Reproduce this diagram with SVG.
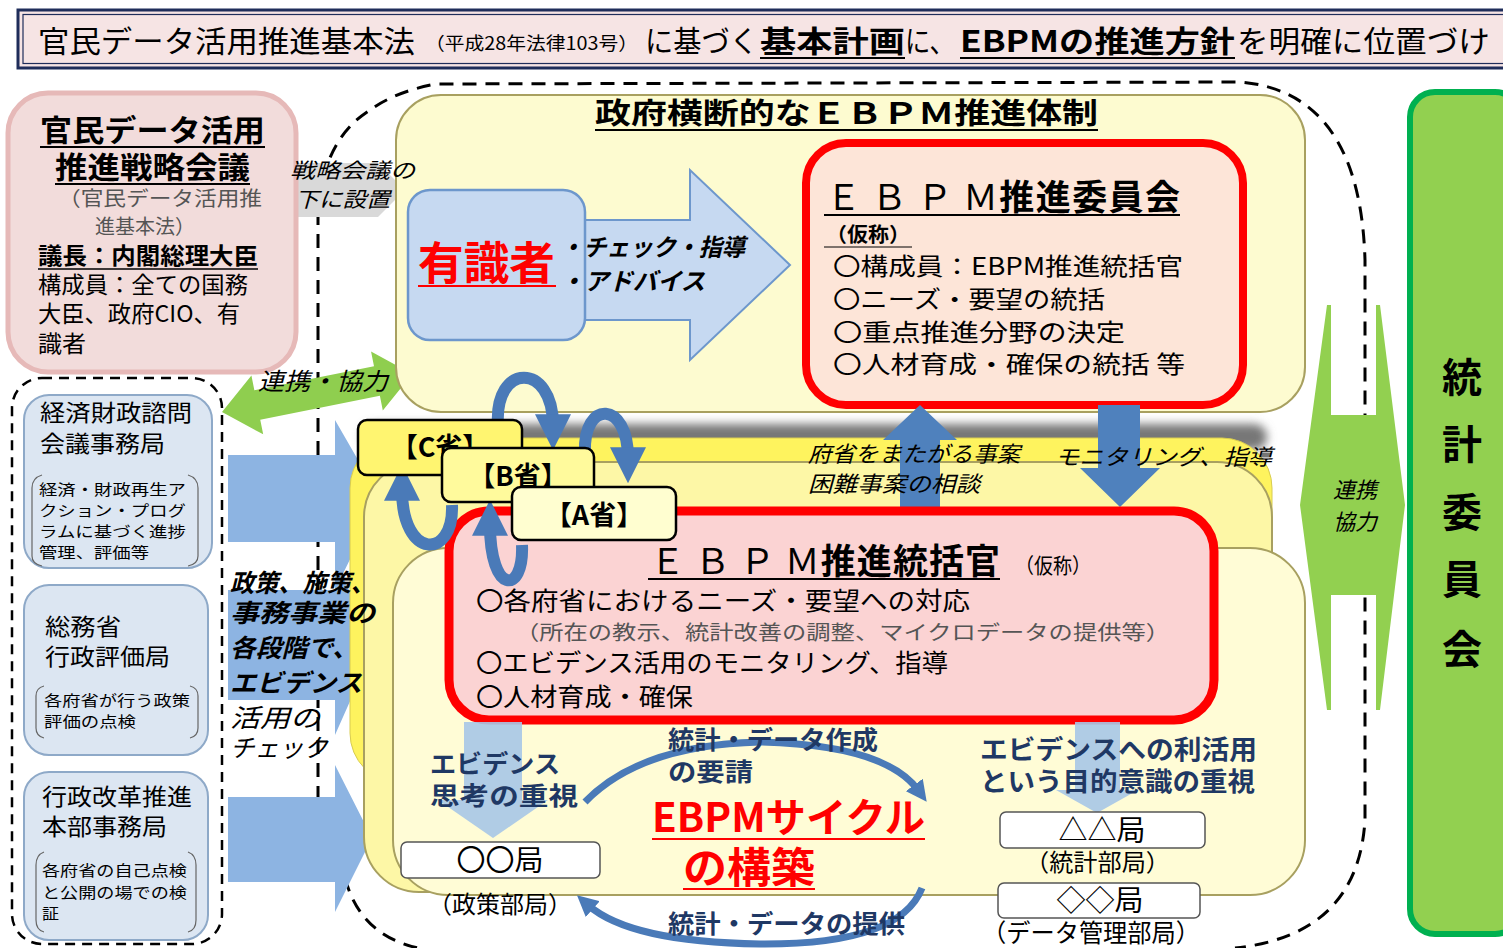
<svg xmlns="http://www.w3.org/2000/svg" width="1503" height="948" viewBox="0 0 1503 948">
<defs>
<style>
text{font-family:'Noto Sans CJK JP','Noto Sans CJK SC',sans-serif;fill:#000}
.b{font-weight:700}
.it{font-style:italic}
.navy{fill:#1f3864;font-weight:700}
.gray{fill:#555}
.ul{stroke:#000;stroke-width:2}
.lbox{fill:#dce6f2;stroke:#8ea9c8;stroke-width:2}
.brk{fill:none;stroke:#666;stroke-width:1.2}
.larrow{fill:#8db4e2}
.dash{fill:none;stroke:#000;stroke-width:3;stroke-dasharray:14 9}
.loop{fill:none;stroke:#4a7ab8;stroke-width:12}
.min{stroke:#000;stroke-width:2.5}
.sub{fill:#fff;stroke:#555;stroke-width:1.5}
.sm{font-size:15px}
</style>
<marker id="ah" viewBox="0 0 10 10" refX="3" refY="5" markerWidth="3" markerHeight="3" orient="auto">
<path d="M0,0 L10,5 L0,10 z" fill="#4a7ab8"/>
</marker>
<filter id="blur" x="-10%" y="-100%" width="120%" height="300%"><feGaussianBlur stdDeviation="5"/></filter>
</defs>
<rect width="1503" height="948" fill="#fff"/>

<g id="banner">
<rect x="18" y="10" width="1495" height="58" fill="#f6e4e4" stroke="#1f2d5a" stroke-width="3"/>
<rect x="23" y="14.5" width="1490" height="49" fill="none" stroke="#1f2d5a" stroke-width="1.2"/>
<text x="38" y="52" font-size="30" textLength="377" lengthAdjust="spacingAndGlyphs">官民データ活用推進基本法</text>
<text x="425" y="50" font-size="18" textLength="213" lengthAdjust="spacingAndGlyphs">（平成28年法律103号）</text>
<text x="645" y="52" font-size="30" textLength="113" lengthAdjust="spacingAndGlyphs">に基づく</text>
<text x="760" y="52" font-size="30" class="b" textLength="145" lengthAdjust="spacingAndGlyphs">基本計画</text>
<text x="905" y="52" font-size="30" textLength="50" lengthAdjust="spacingAndGlyphs">に、</text>
<text x="960" y="52" font-size="30" class="b" textLength="275" lengthAdjust="spacingAndGlyphs">EBPMの推進方針</text>
<text x="1237" y="52" font-size="30" textLength="253" lengthAdjust="spacingAndGlyphs">を明確に位置づけ</text>
<line class="ul" x1="760" y1="58" x2="905" y2="58"/>
<line class="ul" x1="960" y1="58" x2="1235" y2="58"/>
</g>

<g id="connectors">
<path class="dash" d="M318,800 L318,215 Q322,140 370,110 Q395,92 435,84 L1240,82 Q1360,92 1365,260 L1365,820 Q1358,935 1235,948"/>
<path class="dash" d="M345,878 Q360,935 418,948"/>
<polygon points="290,163 378,163 405,190 378,217 290,217" fill="#d9d9d9"/>
<polygon class="larrow" points="228,455 335,455 335,420 380,498 335,590 335,542 228,542"/>
<polygon class="larrow" points="228,590 335,590 335,560 375,645 335,735 335,700 228,700"/>
<polygon class="larrow" points="228,797 335,797 335,765 372,838 335,912 335,882 228,882"/>
<g transform="translate(222,412) rotate(-11.3)">
<polygon points="0,0 36,-30 36,-15 158,-15 158,-30 194,0 158,30 158,15 36,15 36,30" fill="#8fce4f"/>
</g>
<polygon points="1327,305 1331,305 1331,415 1376,415 1376,305 1380,305 1405,505 1380,710 1376,710 1376,595 1331,595 1331,710 1327,710 1300,505" fill="#92d050"/>
</g>

<g id="strategy-council">
<rect x="8" y="93" width="288" height="279" rx="40" fill="#f2dcdb" stroke="#e6b9b8" stroke-width="5"/>
<text x="40" y="141" font-size="30" class="b" textLength="225" lengthAdjust="spacingAndGlyphs">官民データ活用</text>
<text x="55" y="178" font-size="30" class="b" textLength="195" lengthAdjust="spacingAndGlyphs">推進戦略会議</text>
<line class="ul" x1="40" y1="147" x2="265" y2="147"/>
<line class="ul" x1="55" y1="184" x2="250" y2="184"/>
<text x="58" y="206" font-size="20" class="gray" textLength="204" lengthAdjust="spacingAndGlyphs">（官民データ活用推</text>
<text x="95" y="234" font-size="20" class="gray" textLength="100" lengthAdjust="spacingAndGlyphs">進基本法）</text>
<text x="38" y="264" font-size="23" class="b" textLength="220" lengthAdjust="spacingAndGlyphs">議長：内閣総理大臣</text>
<line x1="38" y1="269" x2="258" y2="269" stroke="#000" stroke-width="1.5"/>
<text x="38" y="293" font-size="23" textLength="210" lengthAdjust="spacingAndGlyphs">構成員：全ての国務</text>
<text x="38" y="322" font-size="23" textLength="202" lengthAdjust="spacingAndGlyphs">大臣、政府CIO、有</text>
<text x="38" y="352" font-size="23" textLength="48" lengthAdjust="spacingAndGlyphs">識者</text>
</g>

<g id="left-group">
<rect x="12" y="378" width="210" height="566" rx="30" fill="none" stroke="#000" stroke-width="2.5" stroke-dasharray="10 7"/>
<g id="cao">
<rect class="lbox" x="24" y="395" width="188" height="173" rx="25"/>
<text x="40" y="421" font-size="23" textLength="152" lengthAdjust="spacingAndGlyphs">経済財政諮問</text>
<text x="40" y="452" font-size="23" textLength="125" lengthAdjust="spacingAndGlyphs">会議事務局</text>
<path class="brk" d="M42,475 Q32,478 32,488 L32,556 Q32,564 42,566 M188,475 Q198,478 198,488 L198,556 Q198,564 188,566"/>
<text x="39" y="495" class="sm" textLength="147" lengthAdjust="spacingAndGlyphs">経済・財政再生ア</text>
<text x="39" y="516" class="sm" textLength="147" lengthAdjust="spacingAndGlyphs">クション・プログ</text>
<text x="39" y="537" class="sm" textLength="147" lengthAdjust="spacingAndGlyphs">ラムに基づく進捗</text>
<text x="39" y="558" class="sm" textLength="110" lengthAdjust="spacingAndGlyphs">管理、評価等</text>
</g>
<g id="mic">
<rect class="lbox" x="24" y="585" width="184" height="170" rx="25"/>
<text x="45" y="635" font-size="23" textLength="76" lengthAdjust="spacingAndGlyphs">総務省</text>
<text x="45" y="665" font-size="23" textLength="125" lengthAdjust="spacingAndGlyphs">行政評価局</text>
<path class="brk" d="M44,686 Q36,688 36,696 L36,728 Q36,736 44,738 M190,686 Q198,688 198,696 L198,728 Q198,736 190,738"/>
<text x="44" y="706" class="sm" textLength="146" lengthAdjust="spacingAndGlyphs">各府省が行う政策</text>
<text x="44" y="727" class="sm" textLength="92" lengthAdjust="spacingAndGlyphs">評価の点検</text>
</g>
<g id="gyokaku">
<rect class="lbox" x="24" y="772" width="184" height="168" rx="25"/>
<text x="42" y="805" font-size="23" textLength="150" lengthAdjust="spacingAndGlyphs">行政改革推進</text>
<text x="42" y="835" font-size="23" textLength="125" lengthAdjust="spacingAndGlyphs">本部事務局</text>
<path class="brk" d="M44,852 Q36,855 36,865 L36,920 Q36,930 44,932 M188,852 Q196,855 196,865 L196,920 Q196,930 188,932"/>
<text x="42" y="876" class="sm" textLength="145" lengthAdjust="spacingAndGlyphs">各府省の自己点検</text>
<text x="42" y="898" class="sm" textLength="145" lengthAdjust="spacingAndGlyphs">と公開の場での検</text>
<text x="42" y="919" class="sm" textLength="17" lengthAdjust="spacingAndGlyphs">証</text>
</g>
</g>

<g id="ebpm-system">
<rect x="396" y="95" width="909" height="317" rx="45" fill="#fdfbd0" stroke="#a8a060" stroke-width="2"/>
<text x="595" y="124" font-size="29" class="b" textLength="503" lengthAdjust="spacingAndGlyphs">政府横断的なＥＢＰＭ推進体制</text>
<line class="ul" x1="595" y1="130" x2="1098" y2="130"/>
</g>

<g id="label-setup">
<text x="290" y="178" font-size="21" class="it" fill="#333" textLength="125" lengthAdjust="spacingAndGlyphs">戦略会議の</text>
<text x="295" y="207" font-size="21" class="it" textLength="95" lengthAdjust="spacingAndGlyphs">下に設置</text>
</g>
<g id="label-renkei-left">
<text x="258" y="390" font-size="24" class="it" textLength="130" lengthAdjust="spacingAndGlyphs">連携・協力</text>
</g>

<g id="expert-arrow">
<polygon points="585,220 690,220 690,170 790,265 690,360 690,320 585,320" fill="#c6d9f1" stroke="#6d97cc" stroke-width="2"/>
</g>
<g id="expert">
<rect x="408" y="190" width="177" height="150" rx="22" fill="#c6d9f1" stroke="#6d97cc" stroke-width="2.5"/>
<text x="418" y="280" font-size="45" class="b" style="fill:#ff0000" textLength="137" lengthAdjust="spacingAndGlyphs">有識者</text>
<line x1="418" y1="286" x2="556" y2="286" stroke="#ff0000" stroke-width="2"/>
<text x="560" y="256" font-size="24" class="b it" textLength="185" lengthAdjust="spacingAndGlyphs">・チェック・指導</text>
<text x="560" y="290" font-size="24" class="b it" textLength="145" lengthAdjust="spacingAndGlyphs">・アドバイス</text>
</g>

<g id="committee">
<rect x="806" y="143" width="437" height="262" rx="40" fill="#fde5d8" stroke="#ff0000" stroke-width="8"/>
<text x="826" y="210" font-size="35" textLength="354" lengthAdjust="spacing"><tspan>Ｅ Ｂ Ｐ Ｍ</tspan><tspan class="b">推進委員会</tspan></text>
<line class="ul" x1="824" y1="215" x2="1180" y2="215"/>
<text x="826" y="242" font-size="20" class="b" textLength="84" lengthAdjust="spacingAndGlyphs">（仮称）</text>
<line x1="824" y1="247" x2="912" y2="247" stroke="#000" stroke-width="1"/>
<text x="833" y="275" font-size="24" textLength="350" lengthAdjust="spacingAndGlyphs">〇構成員：EBPM推進統括官</text>
<text x="833" y="308" font-size="24" textLength="272" lengthAdjust="spacingAndGlyphs">〇ニーズ・要望の統括</text>
<text x="833" y="341" font-size="24" textLength="292" lengthAdjust="spacingAndGlyphs">〇重点推進分野の決定</text>
<text x="833" y="373" font-size="24" textLength="352" lengthAdjust="spacingAndGlyphs">〇人材育成・確保の統括 等</text>
</g>

<g id="ministry-layers">
<rect x="362" y="424" width="905" height="26" rx="13" fill="#777" filter="url(#blur)"/>
<rect x="350" y="438" width="922" height="345" rx="50" fill="#fef35e" stroke="#d8cc50" stroke-width="1"/>
<rect x="364" y="462" width="908" height="430" rx="55" fill="#fdf7a6" stroke="#a8a060" stroke-width="2"/>
<rect x="393" y="548" width="912" height="347" rx="55" fill="#fffcd6" stroke="#a8a060" stroke-width="2"/>
</g>

<g id="label-check">
<text x="230" y="592" font-size="25" class="b it" textLength="145" lengthAdjust="spacingAndGlyphs">政策、施策、</text>
<text x="230" y="622" font-size="25" class="b it" textLength="145" lengthAdjust="spacingAndGlyphs">事務事業の</text>
<text x="230" y="657" font-size="25" class="b it" textLength="128" lengthAdjust="spacingAndGlyphs">各段階で、</text>
<text x="230" y="692" font-size="25" class="b it" textLength="132" lengthAdjust="spacingAndGlyphs">エビデンス</text>
<text x="230" y="727" font-size="25" class="it" textLength="90" lengthAdjust="spacingAndGlyphs">活用の</text>
<text x="230" y="757" font-size="25" class="it" textLength="98" lengthAdjust="spacingAndGlyphs">チェック</text>
</g>

<g id="connectors-blue">
<polygon points="900,510 900,440 883,440 920,405 957,440 940,440 940,510" fill="#4f81bd"/>
<polygon points="1098,405 1140,405 1140,468 1160,468 1120,507 1080,468 1098,468" fill="#4f81bd"/>
</g>
<g id="label-consult">
<text x="808" y="462" font-size="22" class="it" textLength="212" lengthAdjust="spacingAndGlyphs">府省をまたがる事案</text>
<text x="808" y="492" font-size="22" class="it" textLength="172" lengthAdjust="spacingAndGlyphs">困難事案の相談</text>
<text x="1055" y="465" font-size="22" class="it" textLength="217" lengthAdjust="spacingAndGlyphs">モニタリング、指導</text>
</g>

<g id="officer">
<rect x="449" y="511" width="765" height="209" rx="40" fill="#fbd3d3" stroke="#ff0000" stroke-width="9"/>
<text x="650" y="574" font-size="35" textLength="350" lengthAdjust="spacing"><tspan>Ｅ Ｂ Ｐ Ｍ</tspan><tspan class="b">推進統括官</tspan></text>
<line class="ul" x1="648" y1="579" x2="1000" y2="579"/>
<text x="1015" y="573" font-size="21" textLength="76" lengthAdjust="spacingAndGlyphs">（仮称）</text>
<text x="476" y="610" font-size="25" textLength="494" lengthAdjust="spacingAndGlyphs">〇各府省におけるニーズ・要望への対応</text>
<text x="515" y="640" font-size="20" class="gray" textLength="655" lengthAdjust="spacingAndGlyphs">（所在の教示、統計改善の調整、マイクロデータの提供等）</text>
<text x="476" y="672" font-size="25" textLength="472" lengthAdjust="spacingAndGlyphs">〇エビデンス活用のモニタリング、指導</text>
<text x="476" y="706" font-size="25" textLength="217" lengthAdjust="spacingAndGlyphs">〇人材育成・確保</text>
</g>

<g id="ministry-loops">
<path class="loop" d="M498,425 C494,362 553,362 553,425" marker-end="url(#ah)"/>
<path class="loop" d="M585,452 C583,400 628,400 628,458" marker-end="url(#ah)"/>
<path class="loop" d="M452,505 C454,560 402,560 402,490" marker-end="url(#ah)"/>
<path class="loop" d="M522,545 C524,595 490,595 490,525" marker-end="url(#ah)"/>
</g>
<g id="ministry-C">
<rect class="min" x="358" y="420" width="164" height="55" rx="9" fill="#fff570"/>
<text x="440" y="457" font-size="27" class="b" text-anchor="middle">【C省】</text>
</g>
<g id="ministry-B">
<rect class="min" x="442" y="448" width="152" height="54" rx="9" fill="#fffa9c"/>
<text x="518" y="486" font-size="27" class="b" text-anchor="middle">【B省】</text>
</g>
<g id="ministry-A">
<rect class="min" x="512" y="487" width="164" height="53" rx="9" fill="#fffed0"/>
<text x="594" y="525" font-size="27" class="b" text-anchor="middle">【A省】</text>
</g>

<g id="cycle-connectors">
<polygon points="464,722 522,722 522,800 548,800 493,838 438,800 464,800" fill="#a7c7e7" opacity="0.9"/>
<polygon points="1075,722 1120,722 1120,790 1138,790 1097,813 1056,790 1075,790" fill="#a7c7e7" opacity="0.9"/>
<path d="M585,802 Q640,745 760,742 Q885,745 918,790" fill="none" stroke="#4a7ab8" stroke-width="7" marker-end="url(#ah)"/>
<path d="M922,888 Q900,945 760,944 Q630,942 588,905" fill="none" stroke="#4a7ab8" stroke-width="7" marker-end="url(#ah)"/>
</g>

<g id="cycle-labels">
<text x="430" y="773" font-size="25" class="navy" textLength="130" lengthAdjust="spacingAndGlyphs">エビデンス</text>
<text x="430" y="805" font-size="25" class="navy" textLength="148" lengthAdjust="spacingAndGlyphs">思考の重視</text>
<text x="668" y="749" font-size="25" class="navy" textLength="210" lengthAdjust="spacingAndGlyphs">統計・データ作成</text>
<text x="668" y="781" font-size="25" class="navy" textLength="85" lengthAdjust="spacingAndGlyphs">の要請</text>
<text x="652" y="832" font-size="40" class="b" style="fill:#ff0000" textLength="273" lengthAdjust="spacingAndGlyphs">EBPMサイクル</text>
<line x1="652" y1="839" x2="925" y2="839" stroke="#ff0000" stroke-width="2"/>
<text x="683" y="883" font-size="42" class="b" style="fill:#ff0000" textLength="132" lengthAdjust="spacingAndGlyphs">の構築</text>
<line x1="683" y1="889" x2="815" y2="889" stroke="#ff0000" stroke-width="2"/>
<text x="668" y="933" font-size="25" class="navy" textLength="237" lengthAdjust="spacingAndGlyphs">統計・データの提供</text>
<text x="980" y="759" font-size="26" class="navy" textLength="277" lengthAdjust="spacingAndGlyphs">エビデンスへの利活用</text>
<text x="980" y="791" font-size="26" class="navy" textLength="275" lengthAdjust="spacingAndGlyphs">という目的意識の重視</text>
</g>

<g id="policy-bureau">
<rect class="sub" x="401" y="842" width="199" height="36" rx="6"/>
<text x="500" y="871" font-size="29" text-anchor="middle">〇〇局</text>
<text x="428" y="913" font-size="24" textLength="144" lengthAdjust="spacingAndGlyphs">（政策部局）</text>
</g>
<g id="stat-bureau">
<rect class="sub" x="1000" y="812" width="205" height="36" rx="6"/>
<text x="1102" y="841" font-size="29" text-anchor="middle">△△局</text>
<text x="1025" y="871" font-size="24" textLength="145" lengthAdjust="spacingAndGlyphs">（統計部局）</text>
</g>
<g id="data-bureau">
<rect class="sub" x="998" y="883" width="202" height="35" rx="6"/>
<text x="1100" y="911" font-size="29" text-anchor="middle">◇◇局</text>
<text x="982" y="942" font-size="25" textLength="218" lengthAdjust="spacingAndGlyphs">（データ管理部局）</text>
</g>

<g id="label-renkei-right">
<text x="1355" y="498" font-size="22" class="it" text-anchor="middle">連携</text>
<text x="1355" y="530" font-size="22" class="it" text-anchor="middle">協力</text>
</g>

<g id="statistics-commission">
<rect x="1410" y="92" width="110" height="842" rx="25" fill="#92d050" stroke="#00b050" stroke-width="6"/>
<text x="1462" y="392" font-size="40" class="b" text-anchor="middle">統</text>
<text x="1462" y="459" font-size="40" class="b" text-anchor="middle">計</text>
<text x="1462" y="527" font-size="40" class="b" text-anchor="middle">委</text>
<text x="1462" y="594" font-size="40" class="b" text-anchor="middle">員</text>
<text x="1462" y="664" font-size="40" class="b" text-anchor="middle">会</text>
</g>
</svg>
